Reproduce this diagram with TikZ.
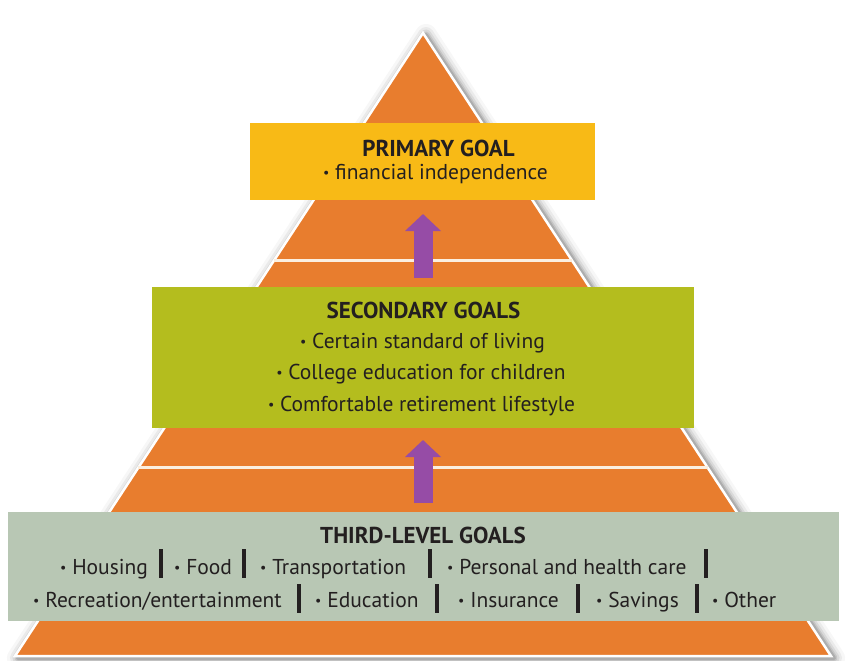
\documentclass[tikz,border=0pt]{standalone}
\usepackage{fontspec}
\usepackage{graphicx}
\setmainfont{PT Sans}
\usetikzlibrary{arrows.meta,calc}
\definecolor{pyor}{HTML}{E87D2E}
\definecolor{boxyel}{HTML}{F8BA16}
\definecolor{boxgrn}{HTML}{B4BD1E}
\definecolor{boxsage}{HTML}{B8C7B4}
\definecolor{arrpur}{HTML}{964CA6}
\definecolor{txt}{HTML}{231F20}
\definecolor{hl}{HTML}{FBEFE0}
\newcommand\bul{\raisebox{0.07em}{\scalebox{0.65}{•}}}
\tikzset{
  goalbox/.style={draw=none, inner sep=0pt, outer sep=0pt},
  ttl/.style={anchor=base, text=txt, font=\fontsize{23}{25}\selectfont\bfseries, inner sep=0pt},
  itm/.style={anchor=base, text=txt, font=\fontsize{21.5}{24}\selectfont, inner sep=0pt},
  itml/.style={anchor=base west, text=txt, font=\fontsize{21.5}{24}\selectfont, inner sep=0pt},
  hline/.style={draw=hl, line width=3pt},
  bigarrow/.style={draw=arrpur, line width=19pt, -{Triangle[width=35pt,length=17pt]}, fill=arrpur},
  sepbar/.style={draw=txt, line width=3.2pt}
}
\begin{document}
\begin{tikzpicture}[x=1pt,y=-1pt]
\useasboundingbox (0,0) rectangle (847,661);
\fill[white] (0,0) rectangle (847,661);
\coordinate (A) at (423,33);
\coordinate (BL) at (15,656);
\coordinate (BR) at (831,656);
% shadow
\foreach \w/\o in {22/0.03,16/0.05,11/0.07,7/0.09,4/0.12}{
  \draw[black, opacity=\o, line width=\w pt, line join=round]
    ([shift={(3,2)}]A) -- ([shift={(3,2)}]BR) -- ([shift={(3,2)}]BL) -- cycle;
}
% pyramid
\fill[pyor] (A) -- (BR) -- (BL) -- cycle;
\draw[white, line width=2.5pt, line join=miter] (A) -- (BR) -- (BL) -- cycle;
% horizontal lines
\coordinate (h1l) at ($(A)!0.3644!(BL)$);
\coordinate (h1r) at ($(A)!0.3644!(BR)$);
\coordinate (h2l) at ($(A)!0.6982!(BL)$);
\coordinate (h2r) at ($(A)!0.6982!(BR)$);
\draw[hline] (h1l) -- (h1r);
\draw[hline] (h2l) -- (h2r);
% boxes
\node[goalbox, fill=boxyel, minimum width=345pt, minimum height=76pt] (prim) at (422.5,161.5) {};
\node[goalbox, fill=boxgrn, minimum width=542pt, minimum height=141pt] (sec) at (423,357.5) {};
\node[goalbox, fill=boxsage, minimum width=831pt, minimum height=109pt] (third) at (423.5,566.5) {};
% arrows
\coordinate (a1s) at (423,278);
\coordinate (a1e) at (423,214);
\coordinate (a2s) at (423,503);
\coordinate (a2e) at (423,440);
\draw[bigarrow] (a1s) -- (a1e);
\draw[bigarrow] (a2s) -- (a2e);
% primary text
\node[ttl] (pt) at (438.5,157) {PRIMARY GOAL};
\node[itm] (p1) at (435.5,179) {\bul\ financial independence};
% secondary text
\node[ttl] (st) at (423.5,318) {SECONDARY GOALS};
\node[itm] (s1) at (422.5,348) {\bul\ Certain standard of living};
\node[itm] (s2) at (421,379) {\bul\ College education for children};
\node[itm] (s3) at (421.5,411) {\bul\ Comfortable retirement lifestyle};
% third text
\node[ttl] (tt) at (423,543) {THIRD-LEVEL GOALS};
\node[itml] (t1) at (60,574) {\bul\ Housing};
\node[itml] (t2) at (174,574) {\bul\ Food};
\node[itml] (t3) at (260,574) {\bul\ Transportation};
\node[itml] (t4) at (447,574) {\bul\ Personal and health care};
\node[itml] (t5) at (33,607) {\bul\ Recreation/entertainment};
\node[itml] (t6) at (315,607) {\bul\ Education};
\node[itml] (t7) at (458,607) {\bul\ Insurance};
\node[itml] (t8) at (596,607) {\bul\ Savings};
\node[itml] (t9) at (712,607) {\bul\ Other};
% separator bars
\foreach \x/\n in {161/b1,244/b2,430/b3,706/b4}{
  \coordinate (\n t) at (\x,549); \coordinate (\n b) at (\x,578);
  \draw[sepbar] (\n t) -- (\n b);
}
\foreach \x/\n in {299/c1,437/c2,578/c3,697/c4}{
  \coordinate (\n t) at (\x,584); \coordinate (\n b) at (\x,613);
  \draw[sepbar] (\n t) -- (\n b);
}
\end{tikzpicture}
\end{document}
